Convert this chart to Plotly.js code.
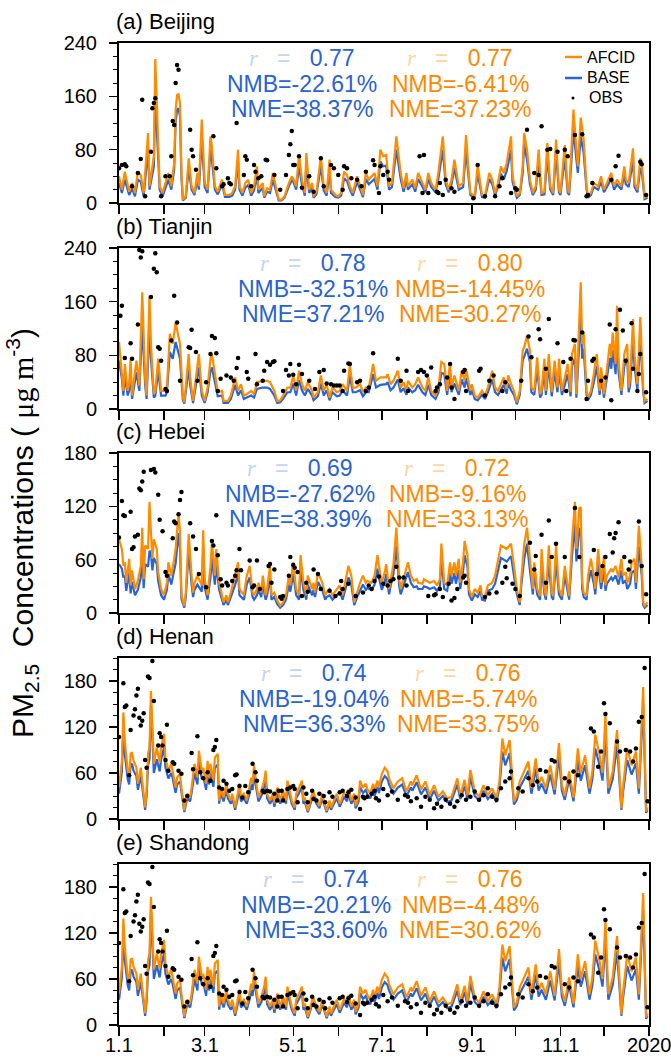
<!DOCTYPE html>
<html><head><meta charset="utf-8">
<script src="https://cdn.plot.ly/plotly-3.0.1.min.js"></script>
<style>html,body{margin:0;padding:0;background:#fff}#chart{width:671px;height:1061px}</style>
</head><body><div id="chart"></div>
<script>
// ---------------- DATA ----------------
// model rows: [day of 2019 (0 = Jan 1), AFCID, BASE]  (ug m-3)
const modelBeijing = [[0,40,30],[2,20,15],[4,47,35],[7,17,12],[9,30,22],[11,15,10],[13,47,35],[15,42,32],[17,15,10],[20,105,80],[21,25,20],[24,70,55],[25,216,160],[27,95,75],[28,25,20],[30,15,10],[33,35,27],[34,45,35],[36,25,20],[38,60,50],[39,140,120],[40,162,140],[41,163,142],[42,150,130],[43,45,38],[44,5,4],[46,10,8],[48,67,52],[50,25,20],[52,15,12],[54,45,35],[55,25,20],[57,125,95],[59,30,24],[61,20,15],[63,100,80],[64,85,65],[66,25,20],[68,17,13],[71,35,28],[73,12,9],[76,12,9],[78,15,11],[80,25,20],[82,80,62],[83,25,20],[85,15,11],[87,30,23],[89,35,27],[91,15,11],[93,25,19],[95,55,42],[96,20,15],[99,30,23],[100,10,8],[102,22,17],[104,20,15],[106,45,35],[108,25,19],[110,5,4],[112,5,4],[114,10,8],[117,30,25],[119,40,34],[120,37,32],[122,25,20],[124,72,55],[126,35,27],[128,15,11],[129,75,58],[131,20,15],[133,30,23],[134,10,8],[136,17,13],[139,70,55],[141,25,19],[143,15,11],[145,65,50],[146,20,15],[149,12,9],[151,10,8],[153,15,11],[155,47,37],[157,42,33],[159,25,20],[161,15,11],[164,40,32],[166,25,20],[168,12,9],[170,45,36],[172,35,28],[176,45,36],[178,25,20],[180,80,62],[182,70,55],[184,72,56],[186,25,20],[188,30,24],[191,100,80],[194,45,36],[196,22,17],[198,45,36],[199,25,20],[202,35,28],[204,22,17],[206,45,36],[209,30,24],[211,20,16],[213,45,36],[215,30,24],[218,20,16],[220,47,37],[223,100,80],[225,35,28],[227,20,16],[229,35,28],[231,65,52],[234,25,20],[237,30,24],[239,102,80],[241,40,32],[242,15,12],[245,10,8],[247,57,45],[250,12,9],[252,10,8],[255,45,36],[257,35,28],[259,15,12],[261,30,24],[263,55,44],[265,45,36],[267,60,48],[270,100,80],[271,40,32],[274,10,8],[276,15,12],[278,55,44],[279,105,88],[281,80,65],[283,35,28],[285,15,12],[287,25,20],[289,80,62],[291,15,12],[293,17,13],[295,90,70],[297,25,20],[299,15,12],[301,95,75],[303,20,16],[304,15,12],[307,87,68],[309,20,16],[310,15,12],[313,140,110],[315,80,65],[316,55,45],[318,128,100],[320,95,75],[322,25,20],[323,10,8],[325,15,12],[327,30,24],[330,25,20],[332,40,32],[334,20,16],[336,30,24],[339,45,36],[341,25,20],[343,35,28],[346,25,20],[348,55,44],[349,35,28],[351,30,24],[354,82,64],[355,30,24],[357,20,16],[359,67,52],[360,60,48],[362,8,6],[364,10,8]];
// obs rows: [day, OBS]
const obsBeijing = [[0,52],[2,57],[4,58],[5,55],[9,25],[13,45],[15,66],[16,155],[18,10],[22,77],[23,142],[24,150],[25,157],[29,10],[32,40],[35,40],[36,70],[37,123],[38,117],[39,180],[40,207],[41,200],[49,110],[50,80],[51,70],[53,50],[65,100],[67,52],[71,25],[72,28],[75,37],[76,30],[77,28],[81,120],[86,42],[87,70],[88,65],[91,25],[93,57],[94,47],[96,37],[98,40],[101,65],[102,64],[107,42],[111,20],[115,42],[117,72],[118,88],[119,108],[120,57],[121,57],[124,70],[126,23],[131,40],[134,17],[139,67],[141,25],[146,57],[148,52],[151,42],[154,20],[155,55],[157,52],[160,37],[164,35],[167,25],[170,47],[175,64],[176,57],[179,15],[180,55],[182,42],[185,47],[186,35],[207,70],[209,15],[210,72],[213,15],[219,17],[220,15],[221,30],[223,12],[225,35],[229,22],[231,17],[244,7],[247,57],[252,10],[259,10],[262,25],[264,37],[270,15],[273,22],[274,20],[281,110],[286,45],[289,42],[291,115],[295,80],[297,81],[302,77],[307,80],[309,70],[314,102],[319,103],[322,10],[323,12],[326,30],[339,35],[342,55],[344,71],[359,62],[360,58],[363,12]];

const modelTianjin = [[0,100,72],[2,57,45],[3,27,20],[4,67,50],[6,27,20],[7,37,28],[8,75,58],[9,20,15],[12,72,55],[14,35,27],[16,174,125],[18,47,36],[19,20,15],[21,169,125],[22,97,75],[24,22,17],[25,27,20],[27,75,57],[29,27,20],[32,27,20],[33,32,25],[35,112,85],[37,97,75],[39,129,100],[42,97,75],[44,17,13],[45,10,8],[48,82,62],[49,47,36],[51,12,9],[53,47,36],[55,82,62],[57,27,20],[59,12,9],[61,32,25],[63,75,57],[64,82,62],[66,52,40],[68,25,19],[71,27,20],[72,12,9],[75,12,9],[77,20,15],[80,47,36],[82,27,20],[84,37,28],[86,20,15],[88,22,17],[91,27,20],[93,22,17],[95,40,30],[99,42,32],[102,42,32],[104,40,30],[107,27,20],[109,12,9],[111,13,10],[113,20,15],[116,32,25],[118,32,25],[120,50,38],[122,27,20],[124,57,43],[126,37,28],[128,27,20],[130,40,30],[133,27,20],[134,17,13],[137,25,19],[139,50,38],[141,27,20],[143,37,28],[145,17,13],[147,32,25],[150,25,19],[152,27,20],[154,37,28],[157,27,20],[159,65,50],[161,32,25],[163,32,25],[166,37,28],[168,25,19],[170,32,25],[172,32,25],[175,67,52],[177,42,32],[180,47,36],[184,47,37],[185,52,40],[187,37,28],[189,42,32],[192,57,44],[194,32,25],[196,40,31],[198,27,21],[199,42,32],[202,32,25],[204,37,28],[206,47,36],[209,32,25],[211,27,21],[213,47,36],[215,27,21],[218,20,15],[220,32,25],[222,70,54],[224,67,52],[226,27,21],[228,70,54],[229,32,25],[231,50,38],[234,27,21],[236,57,44],[238,42,32],[239,60,46],[242,27,21],[243,37,28],[245,20,15],[247,17,13],[250,27,21],[252,20,15],[254,32,25],[257,57,44],[259,32,25],[261,27,21],[263,37,28],[265,47,36],[267,30,23],[268,50,38],[270,37,28],[272,27,21],[274,10,7],[276,27,21],[278,87,72],[279,92,78],[281,109,90],[283,87,70],[284,32,25],[286,27,21],[288,77,60],[290,22,17],[291,27,21],[293,75,58],[294,27,21],[296,82,64],[298,25,19],[300,72,56],[302,32,25],[303,75,58],[305,27,21],[307,47,36],[309,67,52],[311,25,19],[312,82,64],[314,97,76],[315,22,17],[318,189,140],[319,97,75],[320,114,90],[322,27,21],[323,17,13],[325,27,21],[327,52,40],[329,82,64],[331,27,21],[332,62,48],[334,22,17],[336,60,46],[338,97,76],[339,77,60],[340,114,88],[342,67,52],[343,154,120],[344,72,56],[346,27,21],[348,82,64],[350,97,76],[351,32,25],[352,47,36],[354,134,105],[355,82,64],[357,37,28],[359,137,107],[361,32,25],[362,12,9],[364,15,12]];
const obsTianjin = [[1,139],[2,154],[4,76],[8,98],[9,75],[13,126],[14,237],[15,226],[16,235],[22,167],[24,209],[25,232],[26,204],[27,92],[28,90],[29,72],[32,30],[33,27],[36,102],[38,169],[40,129],[42,42],[48,92],[49,91],[50,118],[53,85],[54,42],[60,40],[63,82],[64,109],[66,106],[67,83],[68,27],[70,45],[74,50],[77,47],[79,42],[81,61],[82,76],[88,55],[89,45],[94,82],[95,37],[99,42],[100,57],[102,70],[104,66],[106,70],[107,71],[113,27],[115,58],[117,50],[118,67],[120,51],[122,37],[124,66],[126,52],[131,42],[135,30],[138,55],[141,58],[143,38],[146,37],[148,35],[150,35],[152,35],[154,27],[155,57],[158,68],[159,67],[164,40],[166,42],[170,27],[172,32],[175,83],[192,75],[194,42],[198,57],[199,27],[206,55],[208,58],[210,55],[212,50],[215,62],[218,27],[219,32],[221,37],[226,47],[228,67],[229,32],[231,15],[237,55],[238,58],[239,27],[248,57],[249,60],[252,20],[255,42],[258,50],[264,27],[266,40],[277,42],[282,108],[284,77],[289,119],[290,104],[294,60],[296,134],[302,98],[306,70],[308,27],[311,75],[313,103],[314,102],[319,114],[322,15],[323,42],[326,72],[327,75],[332,42],[335,47],[338,126],[339,13],[342,119],[345,148],[347,117],[349,72],[353,128],[354,60],[357,27],[358,52],[359,82],[363,25]];

const modelHebei = [[0,83,55],[2,72,50],[3,53,40],[4,57,42],[5,34,25],[7,61,45],[8,31,22],[9,48,35],[11,27,20],[13,36,26],[15,53,40],[16,96,68],[17,38,28],[18,76,55],[20,72,52],[21,125,70],[22,91,68],[23,61,48],[24,83,62],[26,72,55],[27,46,36],[29,27,20],[31,20,15],[33,34,26],[34,57,44],[36,42,32],[38,61,48],[39,72,56],[41,113,90],[42,91,72],[43,20,16],[45,8,6],[46,23,18],[48,89,70],[50,42,32],[51,23,18],[52,34,26],[54,42,32],[57,31,24],[58,93,72],[59,38,29],[61,20,15],[63,53,40],[64,80,62],[66,42,32],[67,72,55],[69,34,26],[71,20,15],[72,12,9],[74,20,15],[75,12,9],[77,23,18],[80,42,32],[82,57,44],[83,27,20],[86,20,15],[88,42,32],[90,53,40],[92,23,18],[93,20,15],[95,27,20],[96,34,26],[98,23,18],[99,42,32],[101,20,15],[102,27,20],[104,53,40],[105,20,15],[107,23,18],[109,14,10],[111,8,6],[113,12,9],[115,20,15],[117,42,32],[118,31,24],[120,57,44],[122,27,20],[124,20,15],[125,65,50],[127,34,26],[129,20,15],[130,42,32],[133,27,20],[134,34,26],[135,23,18],[137,46,35],[140,34,26],[142,20,15],[143,23,18],[145,27,20],[147,20,15],[150,27,20],[152,31,24],[154,20,15],[156,38,29],[158,53,40],[160,42,32],[162,12,9],[164,23,18],[166,34,26],[168,42,32],[170,34,26],[171,36,28],[174,34,26],[176,42,32],[178,65,50],[179,53,40],[181,34,26],[183,46,35],[184,55,44],[186,27,21],[187,38,30],[189,55,44],[191,96,75],[193,38,30],[194,27,21],[196,38,30],[198,50,40],[199,57,46],[201,42,34],[203,36,29],[205,38,30],[206,34,27],[209,33,27],[210,38,30],[212,36,29],[214,34,27],[217,36,29],[219,31,25],[221,38,30],[222,78,60],[224,34,27],[226,31,25],[228,57,45],[229,42,33],[231,57,45],[232,42,33],[234,61,48],[235,34,27],[237,59,48],[238,81,65],[240,65,52],[241,27,21],[243,18,14],[245,27,21],[247,23,18],[249,31,25],[250,19,15],[252,18,14],[254,31,25],[257,34,27],[259,42,33],[261,59,47],[263,76,62],[265,74,60],[267,72,58],[269,76,62],[270,78,64],[272,53,42],[274,27,21],[276,12,9],[277,38,30],[279,76,60],[281,96,78],[283,61,48],[285,27,21],[286,57,45],[288,27,21],[290,19,15],[291,72,55],[293,27,21],[294,19,15],[296,76,58],[298,23,18],[299,19,15],[301,76,58],[303,27,21],[305,19,15],[307,53,42],[309,27,21],[310,19,15],[312,81,65],[314,125,100],[315,72,58],[317,118,95],[318,119,95],[319,34,27],[320,23,18],[322,19,15],[323,42,33],[325,61,48],[327,42,33],[328,27,21],[330,72,56],[332,34,27],[334,65,50],[335,31,25],[336,42,33],[339,50,40],[340,46,37],[342,53,42],[344,40,32],[346,61,48],[347,42,33],[349,46,37],[350,34,27],[352,42,33],[353,57,45],[355,61,48],[356,34,27],[358,98,75],[360,53,42],[361,12,9],[362,8,6],[364,12,9]];
const obsHebei = [[0,85],[2,126],[3,110],[4,109],[8,114],[9,72],[10,74],[11,86],[13,88],[14,140],[15,138],[16,148],[17,159],[22,161],[24,162],[25,158],[27,133],[28,105],[30,92],[32,46],[33,42],[37,84],[38,103],[39,101],[41,111],[42,127],[43,136],[49,101],[51,86],[53,72],[55,44],[60,29],[64,81],[65,76],[67,110],[68,65],[70,38],[71,31],[74,34],[75,31],[78,36],[80,42],[81,48],[83,72],[84,48],[90,59],[92,29],[93,31],[95,59],[97,27],[103,53],[104,55],[105,34],[107,49],[111,18],[112,16],[113,19],[117,42],[118,63],[120,54],[121,51],[123,46],[126,19],[129,34],[130,24],[134,49],[137,44],[139,27],[145,25],[149,19],[152,22],[153,36],[154,27],[158,33],[163,19],[168,23],[172,31],[174,27],[176,36],[179,41],[182,33],[185,31],[187,36],[189,38],[191,52],[193,40],[196,40],[198,31],[213,19],[217,20],[218,21],[221,27],[223,18],[227,33],[229,14],[231,17],[233,27],[237,40],[238,42],[239,34],[252,18],[255,22],[260,23],[264,34],[266,52],[267,39],[271,33],[273,27],[276,19],[283,79],[286,49],[287,64],[291,88],[294,34],[296,104],[298,63],[301,78],[307,63],[314,118],[317,63],[327,71],[329,44],[333,53],[335,63],[338,89],[340,68],[341,84],[342,90],[344,102],[348,63],[351,49],[352,58],[358,103],[360,53],[363,21]];

const modelHenan = [[0,41,33],[2,76,62],[3,139,115],[4,102,85],[6,63,52],[7,54,45],[8,85,70],[9,87,72],[10,76,63],[12,67,56],[13,46,38],[15,67,56],[16,50,42],[18,15,12],[19,37,30],[20,85,70],[21,93,78],[22,167,148],[23,124,105],[24,72,60],[26,93,78],[28,74,62],[29,93,78],[31,111,93],[32,80,67],[34,63,53],[36,72,60],[37,63,53],[39,41,34],[40,54,45],[42,59,49],[43,41,34],[45,11,9],[47,33,27],[49,28,23],[50,41,34],[52,72,60],[54,54,45],[55,89,75],[57,63,53],[58,67,56],[60,46,38],[61,76,63],[62,54,45],[63,72,60],[65,50,42],[66,80,67],[68,85,71],[69,24,20],[70,41,34],[72,28,23],[74,46,38],[75,33,27],[77,24,20],[78,33,27],[80,15,12],[82,33,27],[83,46,38],[84,28,23],[86,33,27],[88,24,20],[90,41,34],[91,54,45],[92,46,38],[93,70,58],[95,41,34],[96,28,23],[98,37,30],[100,50,42],[101,63,53],[102,33,27],[104,24,20],[106,33,27],[107,20,16],[109,41,34],[111,24,20],[113,37,30],[115,24,20],[116,50,42],[118,33,27],[119,24,20],[121,15,12],[122,33,27],[124,41,34],[126,50,42],[127,24,20],[128,28,23],[130,11,9],[131,17,14],[133,33,27],[134,35,29],[136,24,20],[138,17,14],[140,33,27],[141,24,20],[143,11,9],[145,24,20],[146,15,12],[148,24,20],[150,33,27],[152,20,16],[153,24,20],[155,35,29],[157,28,23],[158,39,32],[160,24,20],[162,33,27],[163,17,14],[165,28,23],[166,50,42],[168,41,34],[170,46,38],[171,39,32],[173,33,27],[175,46,38],[176,37,30],[178,50,42],[179,41,34],[181,59,49],[183,67,56],[185,62,52],[186,53,45],[189,40,33],[192,49,41],[195,53,45],[198,36,30],[201,49,41],[202,44,37],[205,57,48],[208,38,32],[211,49,41],[214,31,26],[217,44,37],[220,29,24],[223,36,30],[226,27,22],[229,29,24],[233,53,45],[235,31,26],[238,51,43],[240,31,26],[242,64,54],[245,36,30],[248,29,24],[251,44,37],[254,31,26],[257,40,33],[260,27,22],[262,49,41],[264,105,88],[266,83,70],[269,103,86],[272,23,19],[274,30,25],[276,49,41],[279,62,52],[282,75,63],[284,40,33],[287,79,66],[289,45,37],[291,55,46],[294,40,33],[297,70,58],[300,38,32],[303,99,82],[305,45,37],[307,30,25],[310,62,52],[313,28,23],[316,92,77],[318,60,50],[321,83,70],[324,40,33],[326,62,52],[328,110,92],[331,83,70],[333,60,50],[335,136,112],[337,40,33],[340,62,52],[343,116,96],[346,14,12],[347,40,33],[350,92,77],[353,70,58],[356,88,73],[358,40,33],[361,172,150],[363,10,8],[364,15,12]];
const obsHenan = [[0,107],[3,177],[4,146],[5,148],[7,57],[8,116],[10,135],[11,143],[12,161],[13,170],[14,132],[15,122],[16,128],[17,138],[18,77],[19,67],[20,186],[21,184],[23,206],[24,154],[27,96],[28,112],[29,107],[30,96],[32,77],[33,123],[34,63],[37,74],[38,72],[41,63],[43,59],[45,24],[47,30],[50,86],[51,65],[54,108],[56,61],[58,53],[61,61],[63,50],[65,90],[66,94],[67,103],[69,41],[71,39],[72,50],[74,46],[76,37],[78,39],[80,57],[81,58],[83,43],[85,28],[87,43],[89,35],[92,72],[94,61],[95,50],[99,37],[100,35],[102,37],[104,36],[107,33],[109,24],[110,37],[112,37],[113,24],[116,39],[118,41],[120,43],[121,39],[123,22],[127,41],[129,33],[130,22],[133,37],[134,26],[136,24],[138,33],[141,30],[142,22],[145,35],[147,29],[152,35],[154,37],[157,30],[158,35],[160,38],[163,28],[166,13],[168,29],[169,27],[171,29],[174,33],[176,37],[177,27],[179,24],[182,39],[185,31],[188,36],[192,25],[197,31],[199,29],[201,23],[205,27],[208,16],[211,29],[214,25],[217,14],[219,20],[222,16],[225,25],[228,20],[231,16],[233,23],[236,31],[239,25],[242,29],[245,36],[248,25],[251,31],[254,40],[257,29],[260,25],[263,40],[266,49],[269,53],[270,62],[275,40],[278,36],[282,53],[285,44],[288,49],[290,64],[294,62],[298,77],[300,75],[307,53],[310,49],[313,62],[316,57],[325,118],[327,114],[330,68],[332,88],[334,151],[335,137],[338,125],[343,101],[345,88],[349,90],[352,88],[354,75],[356,92],[358,127],[360,133],[362,197],[364,23]];

// The Shandong panel of the reference is drawn identically to Henan
const modelShandong = modelHenan;
const obsShandong = obsHenan;

const panelNames = ['(a) Beijing','(b) Tianjin','(c) Hebei','(d) Henan','(e) Shandong'];
const rBase  = ['0.77','0.78','0.69','0.74','0.74'];
const rAfcid = ['0.77','0.80','0.72','0.76','0.76'];
const nmbBase  = ['-22.61%','-32.51%','-27.62%','-19.04%','-20.21%'];
const nmbAfcid = ['-6.41%','-14.45%','-9.16%','-5.74%','-4.48%'];
const nmeBase  = ['38.37%','37.21%','38.39%','36.33%','33.60%'];
const nmeAfcid = ['37.23%','30.27%','33.13%','33.75%','30.62%'];
const monthTicks = ['2019-01-01','2019-02-01','2019-03-01','2019-04-01','2019-05-01','2019-06-01','2019-07-01','2019-08-01','2019-09-01','2019-10-01','2019-11-01','2019-12-01','2020-01-01'];
const monthLabels = ['1.1','','3.1','','5.1','','7.1','','9.1','','11.1','','2020'];
const seriesNames = ['AFCID','BASE','OBS'];

// ---------------- LAYOUT / STYLE ----------------
const models = [modelBeijing, modelTianjin, modelHebei, modelHenan, modelShandong];
const obsAll = [obsBeijing, obsTianjin, obsHebei, obsHenan, obsShandong];
const W = 671, H = 1061;
const L = 119, R = 649, T = 43, B = 1025;
const panelPx = [[43,203],[248,409],[453,613],[658,819],[864,1025]];
const yMax = [240,240,180,210,210];
const yMajor = [80,80,60,60,60];
const yMinor = [20,20,15,15,15];
const yTickMax = [240,240,180,180,180];
const blueX = [302,313,300,314,316];
const orangeX = [460,470,457,468,470];
const FONT = 'Liberation Sans, Arial, Helvetica, sans-serif';
const SERIF = 'Liberation Serif, Times New Roman, serif';
const ORANGE = 'rgb(255,140,0)';
const BLUE = 'rgb(38,100,218)';
const BLUE_TXT = 'rgb(40,98,212)';
const ORANGE_TXT = 'rgb(255,136,0)';
const BLUE_FADE = 'rgb(196,212,242)';
const ORANGE_FADE = 'rgb(255,214,160)';

const fx = px => (px - L) / (R - L);
const fy = py => (B - py) / (B - T);
function toDate(d){ const t = new Date(Date.UTC(2019,0,1)); t.setUTCDate(1 + d); return t.toISOString().slice(0,10); }

const traces = [];
const layout = {
  width: W, height: H, showlegend: false,
  paper_bgcolor: '#fff', plot_bgcolor: '#fff',
  margin: {l: L, r: W - R, t: T, b: H - B, pad: 0},
  font: {family: FONT, color: '#000'},
  annotations: [], shapes: []
};

for (let i = 0; i < 5; i++) {
  const n = i + 1;
  const xa = 'x' + (n === 1 ? '' : n), ya = 'y' + (n === 1 ? '' : n);
  const m = models[i], o = obsAll[i];
  const dx = m.map(r => toDate(r[0]));
  traces.push({x: dx, y: m.map(r => r[2]), name: seriesNames[1], type: 'scatter', mode: 'lines',
    line: {color: BLUE, width: 2.2}, xaxis: xa, yaxis: ya, hoverinfo: 'skip'});
  traces.push({x: dx, y: m.map(r => r[1]), name: seriesNames[0], type: 'scatter', mode: 'lines',
    line: {color: ORANGE, width: 2.2}, xaxis: xa, yaxis: ya, hoverinfo: 'skip'});
  traces.push({x: o.map(r => toDate(r[0])), y: o.map(r => r[1]), name: seriesNames[2], type: 'scatter', mode: 'markers',
    marker: {color: '#000', size: 4.5}, xaxis: xa, yaxis: ya, hoverinfo: 'skip'});

  const [top, bot] = panelPx[i];
  const majors = []; for (let v = 0; v <= yTickMax[i]; v += yMajor[i]) majors.push(v);
  layout['xaxis' + (n === 1 ? '' : n)] = {
    domain: [0, 1], anchor: ya, type: 'date', range: ['2019-01-01', '2020-01-01'],
    tickmode: 'array', tickvals: monthTicks, ticktext: monthLabels,
    ticks: 'outside', ticklen: 9, tickwidth: 1.5, tickcolor: '#000',
    showticklabels: false,
    showline: true, linewidth: 2, linecolor: '#000', mirror: true,
    showgrid: false, zeroline: false, fixedrange: true
  };
  layout['yaxis' + (n === 1 ? '' : n)] = {
    domain: [fy(bot), fy(top)], anchor: xa, range: [0, yMax[i]],
    tickmode: 'array', tickvals: majors,
    ticks: 'outside', ticklen: 8, tickwidth: 1.5, tickcolor: '#000', ticklabelstandoff: 8,
    minor: {tick0: 0, dtick: yMinor[i], ticks: 'outside', ticklen: 4, tickwidth: 1, tickcolor: '#000'},
    tickfont: {size: 20, family: FONT, color: '#000'},
    showline: true, linewidth: 2, linecolor: '#000', mirror: true,
    showgrid: false, zeroline: false, fixedrange: true
  };

  // panel title
  layout.annotations.push({xref: 'paper', yref: 'paper', x: fx(114), y: fy(top - 7), xanchor: 'left', yanchor: 'bottom',
    text: panelNames[i], showarrow: false, font: {size: 22, family: FONT, color: '#000'}});

  // statistics
  const rLine = (fade, col, val) => `<span style="color:${fade}"><i style="font-family:${SERIF}">r</i>&nbsp;&nbsp;&nbsp;=&nbsp;&nbsp;</span>&nbsp;<span style="color:${col}">${val}</span>`;
  const lines = [
    [blueX[i], top + 15, rLine(BLUE_FADE, BLUE_TXT, rBase[i]), BLUE_TXT],
    [orangeX[i], top + 15, rLine(ORANGE_FADE, ORANGE_TXT, rAfcid[i]), ORANGE_TXT],
    [blueX[i], top + 41, 'NMB=' + nmbBase[i], BLUE_TXT],
    [orangeX[i], top + 41, 'NMB=' + nmbAfcid[i], ORANGE_TXT],
    [blueX[i], top + 66, 'NME=' + nmeBase[i], BLUE_TXT],
    [orangeX[i], top + 66, 'NME=' + nmeAfcid[i], ORANGE_TXT]
  ];
  lines.forEach(([px, py, txt, col]) => layout.annotations.push({
    xref: 'paper', yref: 'paper', x: fx(px), y: fy(py), xanchor: 'center', yanchor: 'middle',
    text: txt, showarrow: false, font: {size: 23, family: FONT, color: col}}));
}

// bottom x tick labels (placed on the shared date scale of the last panel)
monthTicks.forEach((t, k) => { if (monthLabels[k]) layout.annotations.push({
  xref: 'x5', yref: 'paper', x: t, y: fy(1045), xanchor: 'center', yanchor: 'middle',
  text: monthLabels[k], showarrow: false, font: {size: 20, family: FONT, color: '#000'}}); });

// legend (panel a, upper right)
const legY = [57, 78, 98];
layout.shapes.push({type: 'line', xref: 'paper', yref: 'paper', x0: fx(565), x1: fx(582), y0: fy(legY[0]), y1: fy(legY[0]), line: {color: ORANGE, width: 2.5}});
layout.shapes.push({type: 'line', xref: 'paper', yref: 'paper', x0: fx(565), x1: fx(582), y0: fy(legY[1]), y1: fy(legY[1]), line: {color: BLUE, width: 2.5}});
layout.shapes.push({type: 'circle', xref: 'paper', yref: 'paper', x0: fx(571.5), x1: fx(574.5), y0: fy(legY[2] + 1.5), y1: fy(legY[2] - 1.5), fillcolor: '#000', line: {width: 0}});
seriesNames.forEach((s, k) => layout.annotations.push({xref: 'paper', yref: 'paper', x: fx(k === 2 ? 587 : 585), y: fy(legY[k]),
  xanchor: 'left', yanchor: 'middle', text: s, showarrow: false, font: {size: 16, family: FONT, color: '#000'}}));

// y-axis title
layout.annotations.push({xref: 'paper', yref: 'paper', x: fx(22), y: fy(533), xanchor: 'center', yanchor: 'middle', textangle: -90,
  text: `PM<sub>2.5</sub>&nbsp;&nbsp;Concentrations ( <span style="font-family:${SERIF}">μg m</span><sup>-3</sup>)`,
  showarrow: false, font: {size: 30, family: FONT, color: '#000'}});

Plotly.newPlot('chart', traces, layout, {displayModeBar: false, staticPlot: true});
</script>
</body></html>
